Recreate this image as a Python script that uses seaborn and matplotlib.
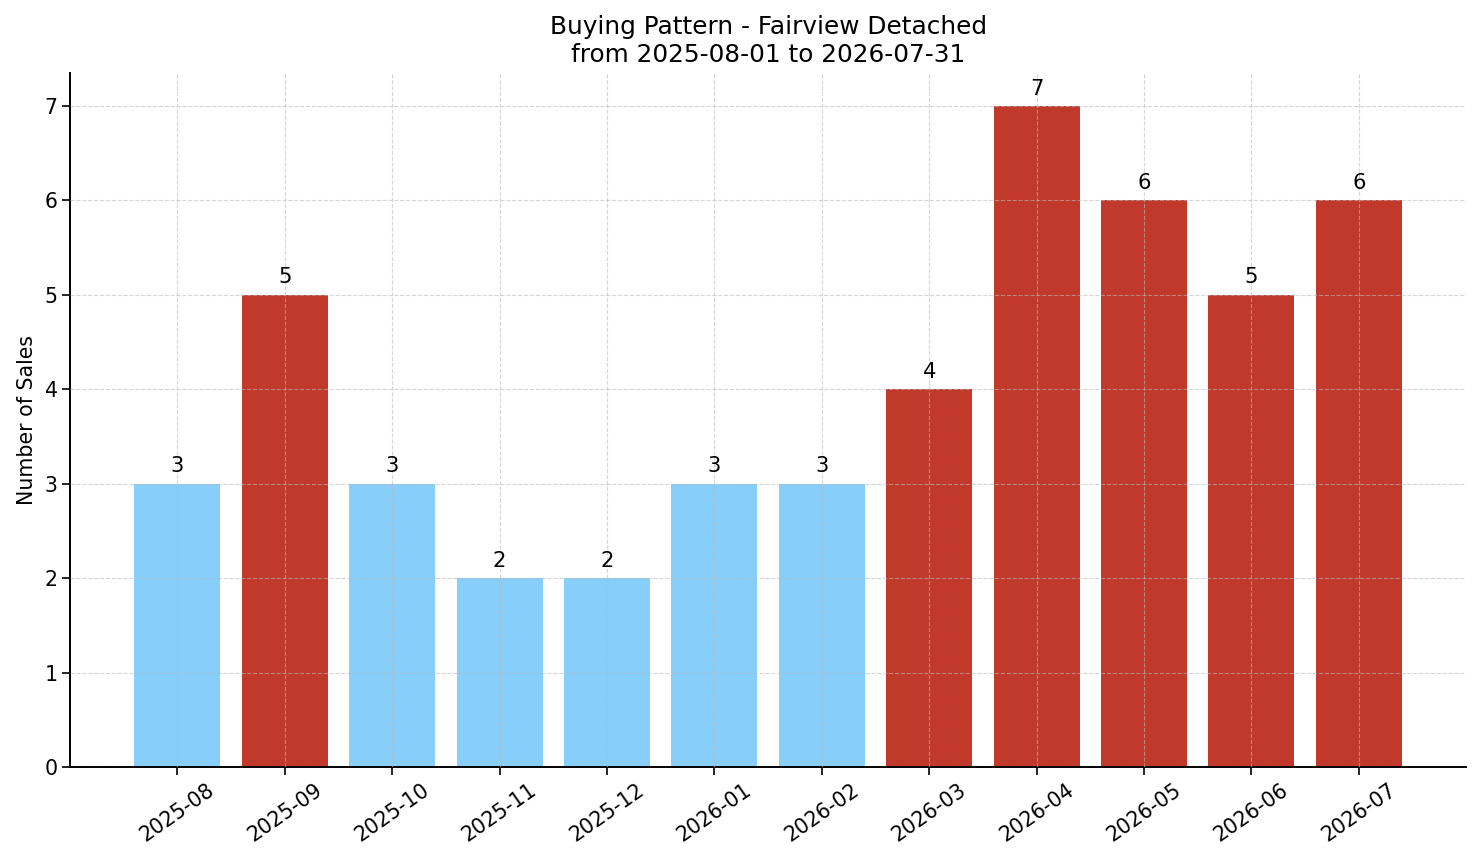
import matplotlib
matplotlib.use("Agg")
import matplotlib.pyplot as plt
import seaborn as sns
import pandas as pd

months = ["2025-08", "2025-09", "2025-10", "2025-11", "2025-12", "2026-01",
          "2026-02", "2026-03", "2026-04", "2026-05", "2026-06", "2026-07"]
sales = [3, 5, 3, 2, 2, 3, 3, 4, 7, 6, 5, 6]
high_color = "#C0392B"
low_color = "#87CEFA"
threshold = 4

sns.set_theme(style="white")
plt.rcParams['font.family'] = ['DejaVu Sans']
plt.rcParams.update({"text.color": "black", "axes.labelcolor": "black",
                     "xtick.color": "black", "ytick.color": "black"})

df = pd.DataFrame({"month": months, "sales": sales})
colors = [high_color if v >= threshold else low_color for v in sales]

fig, ax = plt.subplots(figsize=(14.81, 8.63), dpi=100)
sns.barplot(data=df, x="month", y="sales", hue="month", palette=colors,
            legend=False, ax=ax, width=0.8, saturation=1, linewidth=0,
            edgecolor="none", zorder=2)

for i, v in enumerate(sales):
    ax.text(i, v + 0.08, str(v), ha="center", va="bottom", fontsize=15.2, color="black")

ax.set_title("Buying Pattern - Fairview Detached\nfrom 2025-08-01 to 2026-07-31",
             fontsize=17.8, color="black", pad=8)
ax.set_xlabel("")
ax.set_ylabel("Number of Sales", fontsize=14.8, labelpad=5)
ax.set_ylim(0, 7.35)
ax.set_xlim(-1, 12)
ax.set_yticks(range(0, 8))
ax.tick_params(axis="both", labelsize=14.8, length=5.5, width=1.2, color="black",
               left=True, bottom=True)
plt.setp(ax.get_xticklabels(), rotation=35)
ax.set_axisbelow(False)
ax.grid(True, linestyle="--", linewidth=0.8, color="#bbbbbb", alpha=0.6, zorder=3)
for s in ["top", "right"]:
    ax.spines[s].set_visible(False)
for s in ["left", "bottom"]:
    ax.spines[s].set_color("black")
    ax.spines[s].set_linewidth(1.4)

fig.subplots_adjust(left=0.0473, right=0.99, top=0.9154, bottom=0.1112)
fig.savefig("out.png", dpi=100)
